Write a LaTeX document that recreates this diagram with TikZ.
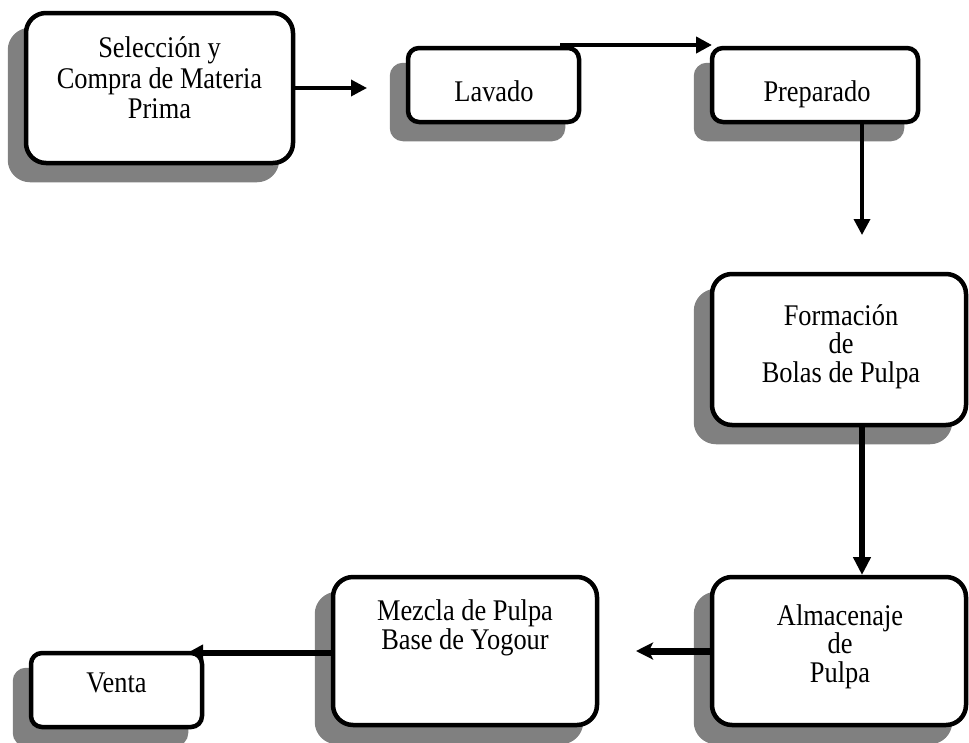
\documentclass[tikz,border=0pt]{standalone}
\usepackage{fontspec}
\setmainfont{Liberation Serif}[FakeStretch=0.88]
\usetikzlibrary{arrows.meta,calc}
\pgfdeclarelayer{shadowlayer}
\pgfdeclarelayer{arrowlayer}
\pgfsetlayers{shadowlayer,arrowlayer,main}
\definecolor{shadowgray}{HTML}{808080}
\newcommand{\firstline}{\rule{0pt}{23pt}}
\newcommand{\boxfont}[1]{\fontsize{30}{#1}\selectfont\lineskiplimit=-20pt\relax}
\begin{document}
\begin{tikzpicture}[x=1pt,y=-1pt,
  stepbox/.style={draw, line width=4.5pt, fill=white, inner sep=0pt, outer sep=0pt},
  bigbox/.style={stepbox, rounded corners=20pt},
  smallbox/.style={stepbox, rounded corners=11pt},
  lbl/.style={anchor=north, inner sep=0pt, align=center, font={\boxfont{28.5}}},
  flow/.style={line width=#1, -{Triangle[length=16pt,width=16pt]}},
  flow/.default=4pt]
\useasboundingbox (0,0) rectangle (969,742);

% process boxes
\node[bigbox,   minimum width=267pt, minimum height=150pt] (sel)   at (159.5,88)  {};
\node[smallbox, minimum width=171pt, minimum height=74pt]  (lav)   at (493.5,85)  {};
\node[smallbox, minimum width=206pt, minimum height=74pt]  (prep)  at (815,85)    {};
\node[bigbox,   minimum width=254pt, minimum height=151pt] (form)  at (839,349.5) {};
\node[bigbox,   minimum width=254pt, minimum height=148pt] (alm)   at (839,651)   {};
\node[bigbox,   minimum width=264pt, minimum height=148pt] (mez)   at (465,651)   {};
\node[smallbox, minimum width=171pt, minimum height=74pt]  (venta) at (116.5,690) {};

% box texts
\node[lbl, font={\boxfont{30.5}}] (selt) at (159.5,34.3)
  {\firstline Selección y\\Compra de Materia\\Prima};
\node[lbl] (lavt)   at (494,77.8)   {\firstline Lavado};
\node[lbl] (prept)  at (817,78)     {\firstline Preparado};
\node[lbl] (formt)  at (841,302)    {\firstline Formación\\de\\Bolas de Pulpa};
\node[lbl] (almt)   at (840,602)    {\firstline Almacenaje\\de\\Pulpa};
\node[lbl, font={\boxfont{29}}] (mezt) at (465,597)
  {\firstline Mezcla de Pulpa\\Base de Yogour};
\node[lbl] (ventat) at (116.5,669)  {\firstline Venta};

% drop shadows behind every box
\begin{pgfonlayer}{shadowlayer}
\foreach \b/\r in {sel/20,lav/11,prep/11,form/20,alm/20,mez/20,venta/11}{
  \filldraw[shadowgray, line width=4.5pt, rounded corners=\r pt]
    ($(\b.south west)+(-16,17)$) rectangle ($(\b.north east)+(-16,17)$);
}
\end{pgfonlayer}

% connectors
\begin{pgfonlayer}{arrowlayer}
\coordinate (selend) at (367,88);
\draw[flow=3.5pt] (sel.east) -- (selend);
\coordinate (lavstart) at (560,45);
\draw[flow=4pt] (lavstart) -- (lavstart -| prep.west);
\coordinate (prepend) at (862,235);
\draw[flow=3.5pt] (prep.south -| prepend) -- (prepend);
\draw[line width=5.5pt, -{Triangle[length=18pt,width=17pt]}, shorten >=2pt]
  (form.south -| prepend) -- (alm.north -| prepend);
\coordinate (almend) at (636,651);
\draw[line width=7pt, -{Stealth[length=17pt,width=17pt,inset=4pt]}] (alm.west) -- (almend);
\draw[flow=5.5pt] (mez.west |- venta.north) -- ($(venta.north east)+(-15,0)$);
\end{pgfonlayer}
\end{tikzpicture}
\end{document}
